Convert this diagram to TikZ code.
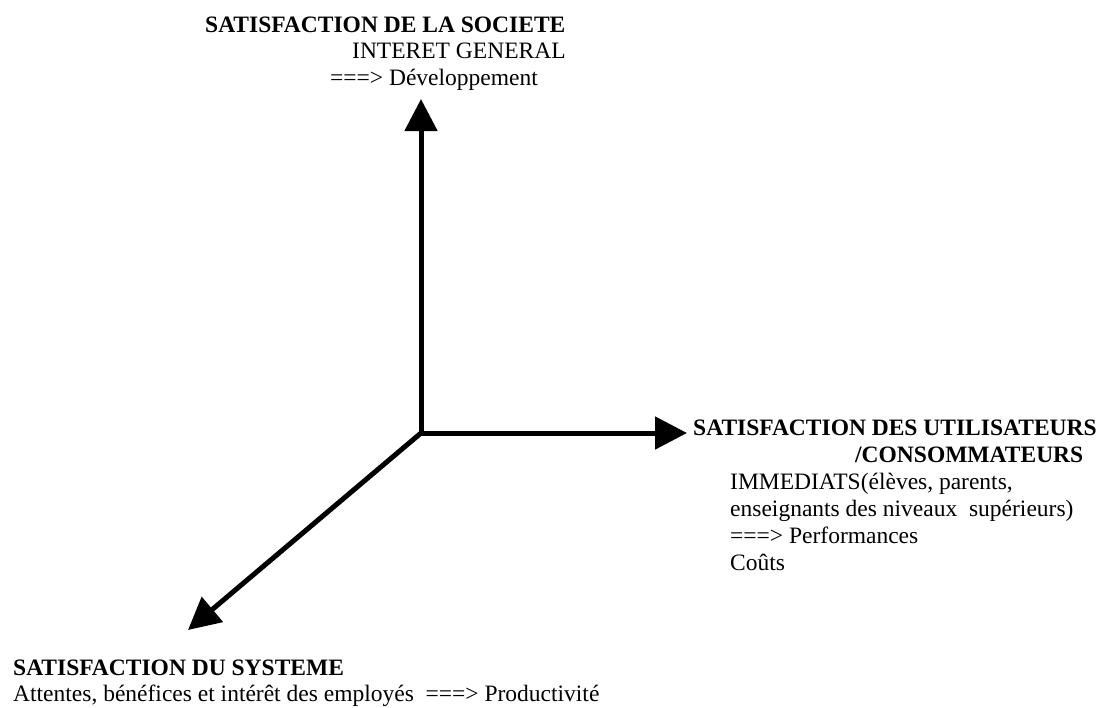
\documentclass[tikz,border=0pt]{standalone}
\usepackage{fontspec}
\setmainfont{Liberation Serif}
\usetikzlibrary{arrows.meta}

\begin{document}
\begin{tikzpicture}[x=1pt,y=-1pt,
  txt/.style={anchor=base west,inner sep=0pt,font=\fontsize{23.5}{27}\selectfont},
  ttl/.style={txt,font=\fontsize{23.5}{27}\selectfont\bfseries},
  axis/.style={line width=5pt,-{Triangle[length=32pt,width=32pt]}}]
  % canvas
  \fill[white] (0,0) rectangle (1116,707);
  \useasboundingbox (0,0) rectangle (1116,707);

  % axes
  \coordinate (O) at (421,433);
  \coordinate (tipUp) at (421,99);
  \coordinate (tipRight) at (687,433);
  \coordinate (tipDiag) at (188,630);
  \draw[axis] (O) -- (tipUp);
  \draw[axis] (O) -- (tipRight);
  \draw[axis,line cap=butt] (O) -- (tipDiag);

  % society
  \node[ttl] (socT) at (205,32) {SATISFACTION DE LA SOCIETE};
  \node[txt] (soc1) at (352,58) {INTERET GENERAL};
  \node[txt] (soc2) at (330,85) {===> Développement};

  % users / consumers
  \node[ttl] (usrT) at (693,435) {SATISFACTION DES UTILISATEURS};
  \node[ttl] (usrT2) at (855,462) {/CONSOMMATEURS};
  \node[txt] (usr1) at (730,489) {IMMEDIATS(élèves, parents,};
  \node[txt] (usr2) at (730,516) {enseignants des niveaux\ \ supérieurs)};
  \node[txt] (usr3) at (730,543) {===> Performances};
  \node[txt] (usr4) at (730,570) {Coûts};

  % system
  \node[ttl] (sysT) at (13,675) {SATISFACTION DU SYSTEME};
  \node[txt] (sys1) at (13,701) {Attentes, bénéfices et intérêt des employés\ \ ===> Productivité};
\end{tikzpicture}
\end{document}
